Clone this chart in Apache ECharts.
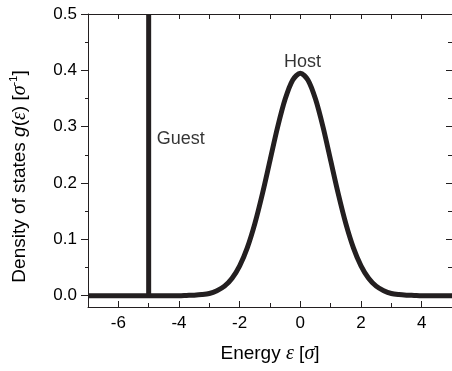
<!DOCTYPE html>
<html>
<head>
<meta charset="utf-8">
<script src="https://cdn.jsdelivr.net/npm/echarts@6/dist/echarts.min.js"></script>
<style>
  html, body { margin: 0; padding: 0; background: #fff; }
  #chart { width: 452px; height: 371px; }
</style>
</head>
<body>
<div id="chart"></div>
<script>
// Host density of states (Gaussian band) sampled along the energy axis
const energy = [-7, -6, -5, -4.5, -4, -3.75, -3.5, -3.25, -3, -2.75, -2.5, -2.25, -2, -1.75, -1.5, -1.25, -1,
  -0.75, -0.5, -0.25, 0, 0.25, 0.5, 0.75, 1, 1.25, 1.5, 1.75, 2, 2.25, 2.5, 2.75, 3, 3.25, 3.5, 3.75, 4, 4.5, 5];
const hostDos = [0, 0, 0, 0, 0, 0.0005, 0.001, 0.002, 0.004, 0.009, 0.017, 0.031, 0.053, 0.085, 0.128, 0.181, 0.240,
  0.299, 0.349, 0.383, 0.395, 0.383, 0.349, 0.299, 0.240, 0.181, 0.128, 0.085, 0.053, 0.031, 0.017, 0.009, 0.004,
  0.002, 0.001, 0.0005, 0, 0, 0];

// Guest level: a sharp state at -5 sigma
const guestEnergy = [-5, -5];
const guestDos = [0, 0.5];

// Tick positions
const xMajorTicks = [-6, -4, -2, 0, 2, 4];
const xMinorTicks = [-5, -3, -1, 1, 3];
const yMajorTicks = [0, 0.1, 0.2, 0.3, 0.4, 0.5];
const yMinorTicks = [0.05, 0.15, 0.25, 0.35, 0.45];

const labelNames = ['Host', 'Guest'];
const labelAnchors = [[0.07, 0.415], [-3.94, 0.278]];

const ink = '#231f20';
const sans = '"Liberation Sans", Arial, sans-serif';
const serif = '"Liberation Serif", "Times New Roman", serif';
const X_MIN = -7, X_MAX = 5, Y_MIN = -0.02, Y_MAX = 0.5;

function xAxisBase(extra) {
  return Object.assign({
    type: 'value', gridIndex: 0, min: X_MIN, max: X_MAX,
    splitLine: { show: false },
    axisLine: { show: false, onZero: false, lineStyle: { color: ink, width: 1 } },
    axisLabel: { show: false },
    axisTick: { show: false }
  }, extra);
}
function yAxisBase(extra) {
  return Object.assign({
    type: 'value', gridIndex: 0, min: Y_MIN, max: Y_MAX,
    splitLine: { show: false },
    axisLine: { show: false, onZero: false, lineStyle: { color: ink, width: 1 } },
    axisLabel: { show: false },
    axisTick: { show: false }
  }, extra);
}

const chart = echarts.init(document.getElementById('chart'), null, { renderer: 'canvas' });

chart.setOption({
  animation: false,
  backgroundColor: '#fff',
  // the frame runs slightly past the right edge of the canvas
  grid: { left: 88, right: -1, top: 14, bottom: 64, containLabel: false },
  xAxis: [
    xAxisBase({
      position: 'bottom',
      axisLine: { show: true, onZero: false, lineStyle: { color: ink, width: 1 } },
      axisTick: { show: true, inside: true, length: 6, customValues: xMajorTicks, lineStyle: { color: ink } },
      axisLabel: {
        show: true, customValues: xMajorTicks, margin: 8,
        fontFamily: sans, fontSize: 17, color: '#000',
        formatter: v => String(v)
      },
      name: 'Energy {e|ε} [{s|σ}]',
      nameLocation: 'middle',
      nameGap: 37,
      nameTextStyle: {
        fontFamily: sans, fontSize: 19, color: '#000',
        rich: {
          e: { fontFamily: serif, fontStyle: 'italic', fontSize: 20, color: '#000' },
          s: { fontFamily: serif, fontStyle: 'italic', fontSize: 20, color: '#000' }
        }
      }
    }),
    xAxisBase({
      position: 'bottom',
      axisTick: { show: true, inside: true, length: 4, customValues: xMinorTicks, lineStyle: { color: ink } }
    }),
    xAxisBase({
      position: 'top',
      axisLine: { show: true, onZero: false, lineStyle: { color: ink, width: 1 } },
      axisTick: { show: true, inside: true, length: 5, customValues: xMajorTicks.concat(xMinorTicks), lineStyle: { color: ink } }
    })
  ],
  yAxis: [
    yAxisBase({
      position: 'left',
      axisLine: { show: true, onZero: false, lineStyle: { color: ink, width: 1 } },
      axisTick: { show: true, inside: false, length: 7, customValues: yMajorTicks, lineStyle: { color: ink } },
      axisLabel: {
        show: true, customValues: yMajorTicks, margin: 11,
        fontFamily: sans, fontSize: 17, color: '#000',
        formatter: v => v.toFixed(1)
      },
      name: 'Density of states {g|g}({e|ε}) [{s|σ}{sup|-1}]',
      nameLocation: 'middle',
      nameRotate: 90,
      nameGap: 56,
      nameTextStyle: {
        fontFamily: sans, fontSize: 19, color: '#000', lineHeight: 24,
        padding: [0, 32, 0, 0],
        rich: {
          g: { fontFamily: sans, fontStyle: 'italic', fontSize: 19, color: '#000', lineHeight: 24 },
          e: { fontFamily: serif, fontStyle: 'italic', fontSize: 20, color: '#000', lineHeight: 24 },
          s: { fontFamily: serif, fontStyle: 'italic', fontSize: 20, color: '#000', lineHeight: 24 },
          sup: { fontFamily: sans, fontSize: 11, color: '#000', verticalAlign: 'top', lineHeight: 14 }
        }
      }
    }),
    yAxisBase({
      position: 'left',
      axisTick: { show: true, inside: false, length: 3, customValues: yMinorTicks, lineStyle: { color: ink } }
    }),
    yAxisBase({
      position: 'right',
      axisLine: { show: true, onZero: false, lineStyle: { color: ink, width: 1 } },
      axisTick: { show: true, inside: true, length: 6, customValues: yMajorTicks, lineStyle: { color: ink } }
    }),
    yAxisBase({
      position: 'right',
      axisTick: { show: true, inside: true, length: 4, customValues: yMinorTicks, lineStyle: { color: ink } }
    })
  ],
  series: [
    {
      name: 'Host',
      type: 'line',
      xAxisIndex: 0, yAxisIndex: 0,
      data: energy.map((e, i) => [e, hostDos[i]]),
      smooth: 0.3,
      showSymbol: false,
      lineStyle: { color: ink, width: 5, cap: 'butt', join: 'round' },
      clip: true
    },
    {
      name: 'Guest',
      type: 'line',
      xAxisIndex: 0, yAxisIndex: 0,
      data: guestEnergy.map((e, i) => [e, guestDos[i]]),
      showSymbol: false,
      lineStyle: { color: ink, width: 5, cap: 'butt' },
      clip: true
    },
    {
      name: 'labels',
      type: 'scatter',
      xAxisIndex: 0, yAxisIndex: 0,
      symbolSize: 0,
      silent: true,
      data: labelNames.map((n, i) => ({ name: n, value: labelAnchors[i] })),
      label: {
        show: true, position: 'inside', formatter: p => p.name,
        fontFamily: sans, fontSize: 18, color: '#000', textBorderWidth: 0
      }
    }
  ]
});
</script>
</body>
</html>
